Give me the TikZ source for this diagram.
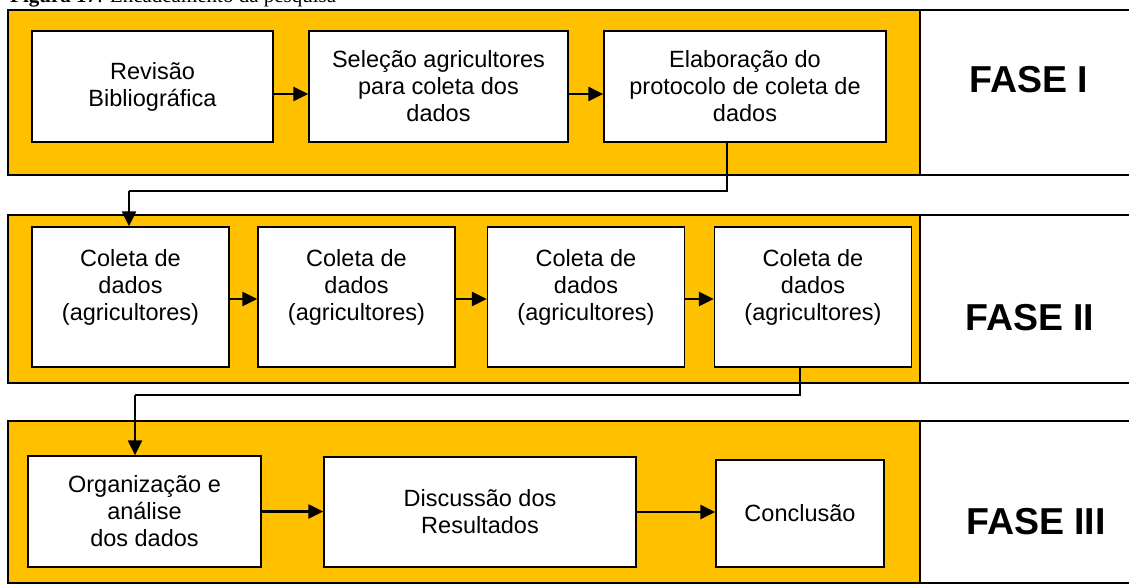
\documentclass[tikz,border=0pt]{standalone}
\usepackage{fontspec}
\setmainfont{Liberation Sans}
\newfontfamily\capfont{Liberation Serif}
\usetikzlibrary{arrows.meta}
\definecolor{fasegold}{HTML}{FFC000}
\tikzset{
  etapa/.style={draw, fill=white, line width=1.4pt, align=center, inner sep=0pt,
    font=\fontsize{23.5}{27}\selectfont},
  coleta/.style={etapa, minimum width=197, minimum height=140},
  faixa/.style={draw, fill=fasegold, line width=1.4pt},
  rotulo/.style={draw, fill=white, line width=1.4pt},
  fase/.style={font=\fontsize{37.5}{40}\selectfont\bfseries, inner sep=0pt, anchor=west},
  seta/.style={->, line width=2.4pt},
  ligacao/.style={line width=1.3pt},
  >={Triangle[length=15pt,width=14pt]}
}

\begin{document}
\begin{tikzpicture}[x=1pt,y=-1pt]
        \useasboundingbox (0,0) rectangle (1129,585);
        \node[anchor=base west, inner sep=0pt, font=\capfont\fontsize{21}{24}\selectfont]
          (legenda) at (10,3) {\textbf{Figura 17}: Encadeamento da pesquisa};
        % fase I
        \draw[faixa] (8,10) rectangle (920,175);
        \draw[rotulo] (920,10) rectangle (1131,175);
        \node[fase] (fase1) at (969,80) {FASE I};
        \node[etapa, minimum width=241, minimum height=111] (revisao) at (152.5,86.5)
          {Revisão\\Bibliográfica};
        \node[etapa, minimum width=259, minimum height=111] (selecao) at (438.5,86.5)
          {Seleção agricultores\\para coleta dos\\dados};
        \node[etapa, minimum width=282, minimum height=111] (elab) at (745,86.5)
          {Elaboração do\\protocolo de coleta de\\dados};
        \draw[seta] ([yshift=-7.5pt]revisao.east) -- ([yshift=-7.5pt]selecao.west);
        \draw[seta] ([yshift=-7.5pt]selecao.east) -- ([yshift=-7.5pt]elab.west);
        % fase II
        \draw[faixa] (8,215) rectangle (920,383);
        \draw[rotulo] (920,215) rectangle (1131,383);
        \node[fase] (fase2) at (965,318) {FASE II};
        \node[coleta] (col1) at (130.5,297) {Coleta de\\dados\\(agricultores)\\[-2pt]\mbox{}};
        \node[coleta] (col2) at (356.5,297) {Coleta de\\dados\\(agricultores)\\[-2pt]\mbox{}};
        \node[coleta] (col3) at (586,297) {Coleta de\\dados\\(agricultores)\\[-2pt]\mbox{}};
        \node[coleta] (col4) at (813,297) {Coleta de\\dados\\(agricultores)\\[-2pt]\mbox{}};
        \draw[seta] ([yshift=-2pt]col1.east) -- ([yshift=-2pt]col2.west);
        \draw[seta] ([yshift=-2pt]col2.east) -- ([yshift=-2pt]col3.west);
        \draw[seta] ([yshift=-2pt]col3.east) -- ([yshift=-2pt]col4.west);
        % fase III
        \draw[faixa] (8,421) rectangle (920,583);
        \draw[rotulo] (920,421) rectangle (1131,583);
        \node[fase] (fase3) at (966,522) {FASE III};
        \node[etapa, minimum width=233, minimum height=111] (org) at (144.5,511.5)
          {Organização e\\análise\\dos dados};
        \node[etapa, minimum width=312, minimum height=110] (disc) at (480,512)
          {Discussão dos\\Resultados};
        \node[etapa, minimum width=168, minimum height=107] (conc) at (800,513.5)
          {Conclusão};
        \draw[seta] (org.east) -- (org.east -| disc.west);
        \draw[seta] (disc.east) -- (disc.east -| conc.west);
        % passagem entre as fases
        \coordinate (desvio1) at (727,191);
        \coordinate (queda1) at (129,191);
        \draw[ligacao] (desvio1 |- elab.south) -- (desvio1) -- (queda1);
        \draw[seta] (queda1) -- (queda1 |- col1.north);
        \coordinate (desvio2) at (800,395);
        \coordinate (queda2) at (135,395);
        \draw[ligacao] (desvio2 |- col4.south) -- (desvio2) -- (queda2);
        \draw[seta] (queda2) -- (queda2 |- org.north);
      \end{tikzpicture}
\end{document}
